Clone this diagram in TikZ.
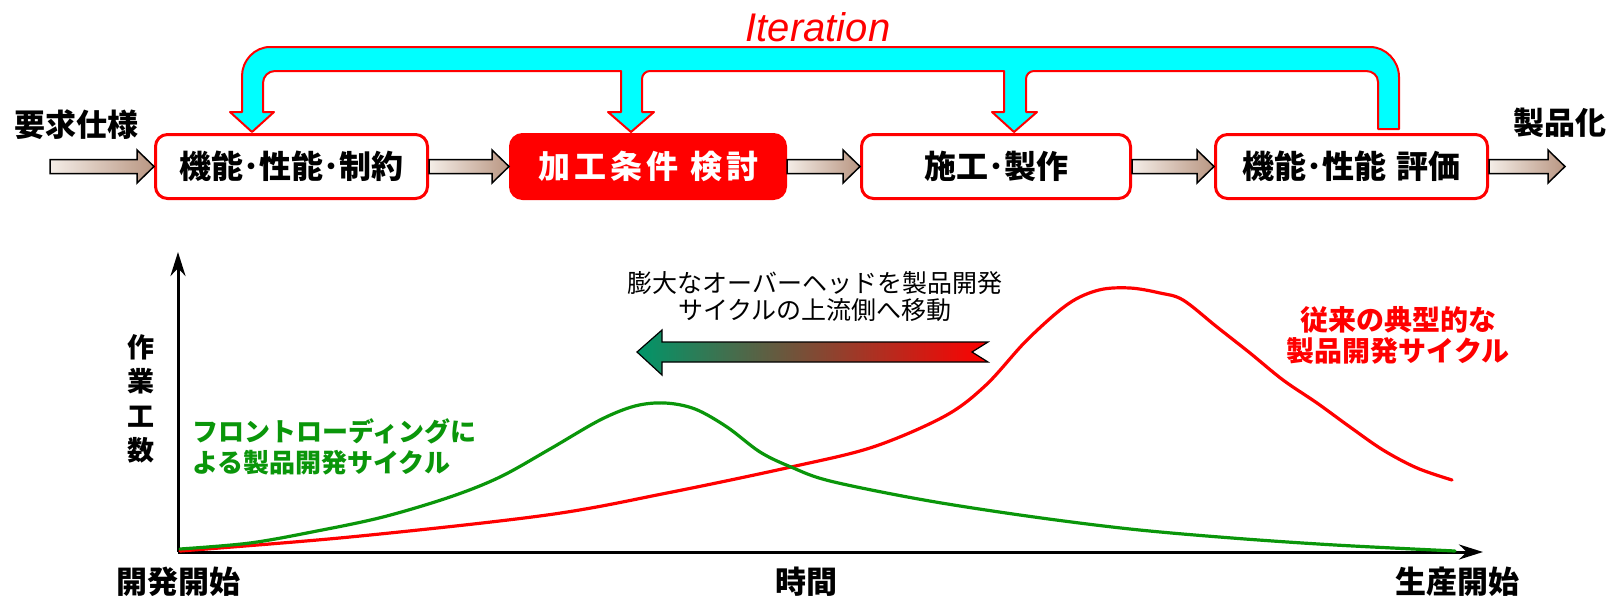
\documentclass[tikz,border=0pt]{standalone}
\usepackage{fontspec}
\setmainfont{Liberation Sans}
\newfontfamily\jp{Noto Sans CJK JP}
\usetikzlibrary{calc,arrows.meta}
\definecolor{cyanfill}{RGB}{0,255,255}
\definecolor{grn}{RGB}{10,150,10}
\definecolor{teal2}{RGB}{0,150,105}
\definecolor{arrL}{RGB}{244,237,231}
\definecolor{arrR}{RGB}{185,150,130}
\definecolor{rd}{RGB}{255,0,0}
\newcommand\blkarrow[2]{\draw[blockarr] ($(#1)+(0,-7)$) -- ($(#2)+(-17,-7)$) -- ($(#2)+(-17,-16.5)$) -- (#2) -- ($(#2)+(-17,16.5)$) -- ($(#2)+(-17,7)$) -- ($(#1)+(0,7)$) -- cycle;}
\begin{document}
\begin{tikzpicture}[x=1pt,y=-1pt,
  box/.style={draw=rd, line width=3pt, rounded corners=12pt, fill=white, minimum height=64pt, inner sep=0pt, font=\jp\bfseries\fontsize{32}{36}\selectfont},
  blockarr/.style={draw=black, line width=1.5pt, left color=arrL, right color=arrR, line join=miter},
  iter/.style={fill=cyanfill, draw=rd, line width=2pt, line join=round},
  lab/.style={font=\jp\bfseries\fontsize{31}{34}\selectfont, inner sep=0pt},
  axisline/.style={line width=3pt, -{Stealth[length=24pt,width=15pt]}},
  curve/.style={line width=3.2pt, line cap=round, line join=round}]
\useasboundingbox (0,0) rectangle (1610,595);
\fill[white] (0,0) rectangle (1610,595);

% iteration loop
\draw[iter] (252,132) -- (230,112) -- (242,112) -- (242,76) .. controls (242,60.5) and (254.5,47) .. (270,47) -- (1370,47) .. controls (1386,47) and (1399,61) .. (1399,77) -- (1399,129) -- (1378,129) -- (1378,82) .. controls (1378,75.4) and (1372.6,71) .. (1366,71) -- (1034,71) .. controls (1029.6,71) and (1026,74.6) .. (1026,79) -- (1026,112) -- (1037,112) -- (1014,132) -- (992,112) -- (1004,112) -- (1004,71) -- (650,71) .. controls (645.6,71) and (642,74.6) .. (642,79) -- (642,112) -- (654,112) -- (631,132) -- (608,112) -- (621,112) -- (621,71) -- (275,71) .. controls (268.4,71) and (263,76.4) .. (263,83) -- (263,112) -- (274,112) -- cycle;
\node[font=\itshape\fontsize{40}{44}\selectfont, text=rd, inner sep=0pt] (iterlab) at (818,27) {Iteration};

% process boxes
\node[box, minimum width=272pt] (b1) at (291.5,166.5) {機能･性能･制約};
\node[box, minimum width=275pt, fill=rd, text=white] (b2) at (648,166.5) {加\kern4pt 工\kern4pt 条\kern4pt 件\kern12pt 検\kern4pt 討};
\node[box, minimum width=269pt] (b3) at (996,166.5) {施工･製作};
\node[box, minimum width=272pt] (b4) at (1351.5,166.5) {機能･性能\kern10pt 評価};

\node[lab] (req) at (77,125) {要求仕様};
\node[lab] (prod) at (1560,123) {製品化};
\coordinate (inL) at (50,166.5);
\coordinate (outR) at (1565,166.5);

\blkarrow{inL}{b1.west}
\blkarrow{b1.east}{b2.west}
\blkarrow{b2.east}{b3.west}
\blkarrow{b3.east}{b4.west}
\blkarrow{b4.east}{outR}

% axes
\coordinate (O) at (178,552);
\coordinate (Ytop) at (178,252);
\coordinate (Xend) at (1483,552);
\draw[axisline] (O) -- (Ytop);
\draw[axisline] (O) -- (Xend);

% curves
\draw[curve, rd] plot[smooth, tension=0.55] coordinates {(180,551) (350,537) (547,515) (667,493) (791,467) (873,447) (945,416) (986,385) (1027,340) (1068,304) (1099,290) (1130,288) (1160,293) (1183,300) (1217,327) (1250,353) (1283,380) (1317,403) (1350,427) (1383,450) (1417,468) (1452,480)};
\draw[curve, grn] plot[smooth, tension=0.55] coordinates {(180,549) (250,543) (317,531) (383,517) (450,497) (500,477) (550,449) (600,420) (635,406) (665,403) (695,409) (727,427) (760,452) (791,467) (830,481) (924,500) (1027,516) (1130,529) (1232,538) (1335,545) (1455,551)};

% shift arrow
\draw[draw=black, line width=1.2pt, left color=teal2, right color=rd, line join=miter] (637,352) -- (662,330) -- (662,342) -- (988,342) -- (972,352) -- (988,362) -- (662,362) -- (662,375) -- cycle;
\node[font=\jp\fontsize{25}{27}\selectfont, align=center, inner sep=0pt] (shiftlab) at (815,297) {膨大なオーバーヘッドを製品開発\\サイクルの上流側へ移動};

% labels
\node[font=\jp\bfseries\fontsize{27}{34.5}\selectfont, align=center, inner sep=0pt] (ylab) at (141,399) {作\\業\\工\\数};
\node[lab] (t0) at (178,582) {開発開始};
\node[lab] (tm) at (806,582) {時間};
\node[lab] (t1) at (1457,582) {生産開始};
\node[font=\jp\bfseries\fontsize{26}{31}\selectfont, text=grn, align=left, inner sep=0pt, anchor=west] (frontlab) at (192,447) {フロントローディングに\\よる製品開発サイクル};
\node[font=\jp\bfseries\fontsize{28}{31}\selectfont, text=rd, align=center, inner sep=0pt] (convlab) at (1398,335) {従来の典型的な\\製品開発サイクル};
\end{tikzpicture}
\end{document}
